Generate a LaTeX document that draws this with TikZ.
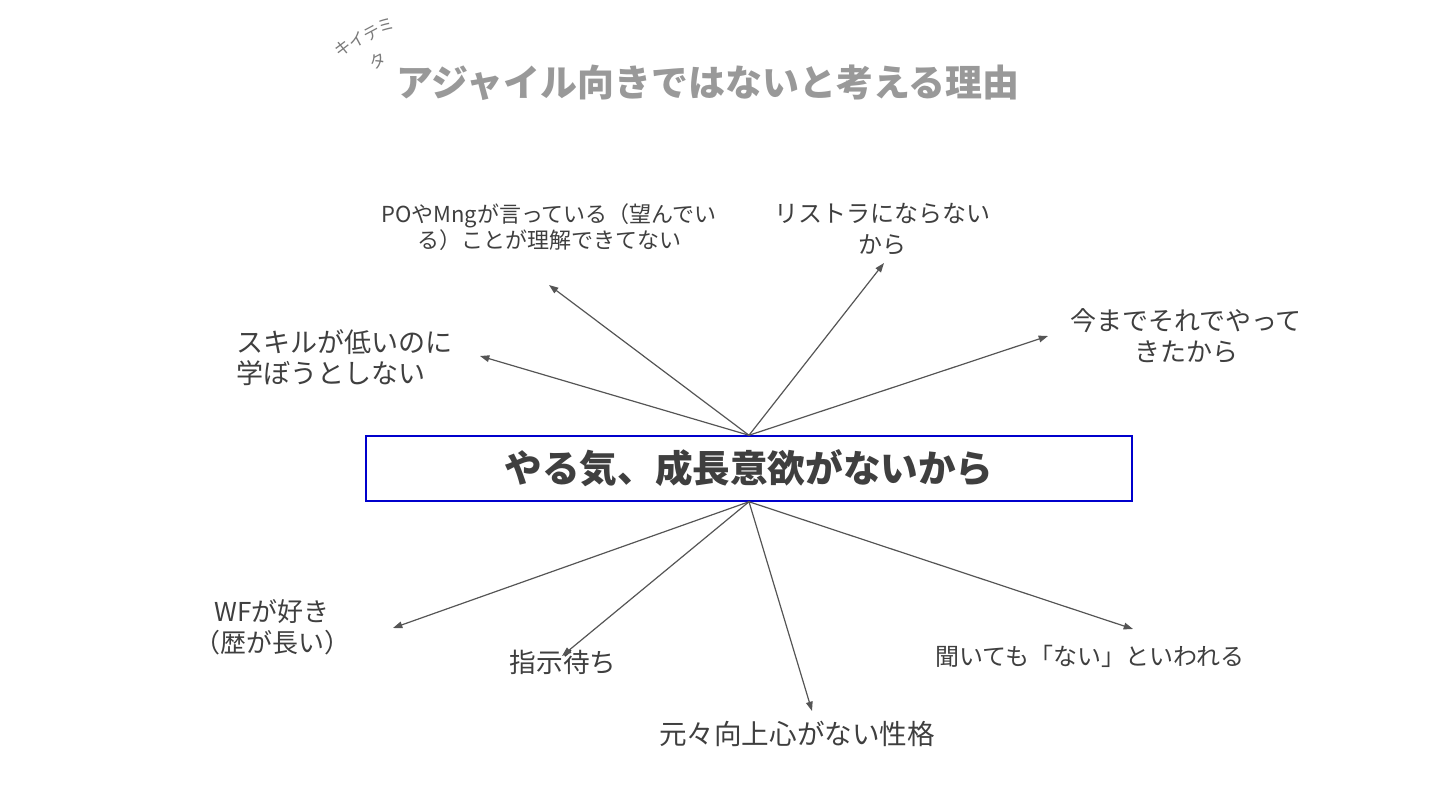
\documentclass[tikz,border=0pt]{standalone}
\usepackage{fontspec}
\setmainfont{Noto Sans CJK JP}
\usepackage{xcolor}
\usetikzlibrary{arrows.meta, positioning}

\definecolor{txtgray}{HTML}{3F3F3F}
\definecolor{arrgray}{HTML}{555555}
\definecolor{titlegray}{HTML}{999999}
\definecolor{boxblue}{HTML}{0000CC}

\begin{document}
\begin{tikzpicture}[
    x=0.75pt, y=-0.75pt,
    lbl/.style={text=txtgray, font=\fontsize{20}{23}\selectfont, align=center, inner sep=0pt},
    mainbox/.style={draw=boxblue, line width=1.1pt, minimum width=574.5pt, minimum height=48.75pt,
        text=txtgray, font=\bfseries\fontsize{28.2}{34}\selectfont},
    arr/.style={draw=arrgray, line width=0.9pt, -{Triangle[length=7pt, width=5pt]}},
    >=Triangle
]
\useasboundingbox (0,0) rectangle (1440,810);

% Title
\node[text=titlegray, font=\bfseries\fontsize{27.7}{32}\selectfont, inner sep=0pt] (title) at (708, 83) {アジャイル向きではないと考える理由};
\node[text=titlegray!80!black, font=\fontsize{12.5}{21}\selectfont, align=center, rotate=28, inner sep=0pt] (memo) at (371, 49) {キイテミ\\タ};

% Center
\node[mainbox] (main) at (749, 468.5) {やる気、成長意欲がないから};

% Upper reasons
\node[lbl, font=\fontsize{16.5}{19.5}\selectfont] (po) at (549, 227) {POやMngが言っている（望んでい\\る）ことが理解できてない};
\node[lbl, font=\fontsize{20.3}{23.3}\selectfont] (skill) [anchor=west, align=left] at (236, 357.5) {スキルが低いのに\\学ぼうとしない};
\node[lbl, font=\fontsize{18}{23.3}\selectfont] (rist) at (882, 229.5) {リストラにならない\\から};
\node[lbl, font=\fontsize{19.5}{23.3}\selectfont] (ima) at (1186, 335.5) {今までそれでやって\\きたから};

% Lower reasons
\node[lbl, font=\fontsize{19.5}{23.3}\selectfont] (wf) at (272, 627.5) {WFが好き\\（歴が長い）};
\node[lbl] (shiji) at (563, 662) {指示待ち};
\node[lbl, font=\fontsize{20.7}{23}\selectfont] (moto) at (797, 734) {元々向上心がない性格};
\node[lbl, font=\fontsize{18}{23}\selectfont] (kiite) at (1090, 656) {聞いても「ない」といわれる};

% Arrow tips
\coordinate (po-tip) at (549, 285);
\coordinate (skill-tip) at (480, 356);
\coordinate (rist-tip) at (884, 263);
\coordinate (ima-tip) at (1048, 336);
\coordinate (wf-tip) at (393, 628);
\coordinate (shiji-tip) at (562, 656);
\coordinate (moto-tip) at (812, 711);
\coordinate (kiite-tip) at (1133, 629);

% Arrows up
\draw[arr] (main.north) -- (po-tip);
\draw[arr] (main.north) -- (skill-tip);
\draw[arr] (main.north) -- (rist-tip);
\draw[arr] (main.north) -- (ima-tip);

% Arrows down
\draw[arr] (main.south) -- (wf-tip);
\draw[arr] (main.south) -- (shiji-tip);
\draw[arr] (main.south) -- (moto-tip);
\draw[arr] (main.south) -- (kiite-tip);

\end{tikzpicture}
\end{document}
